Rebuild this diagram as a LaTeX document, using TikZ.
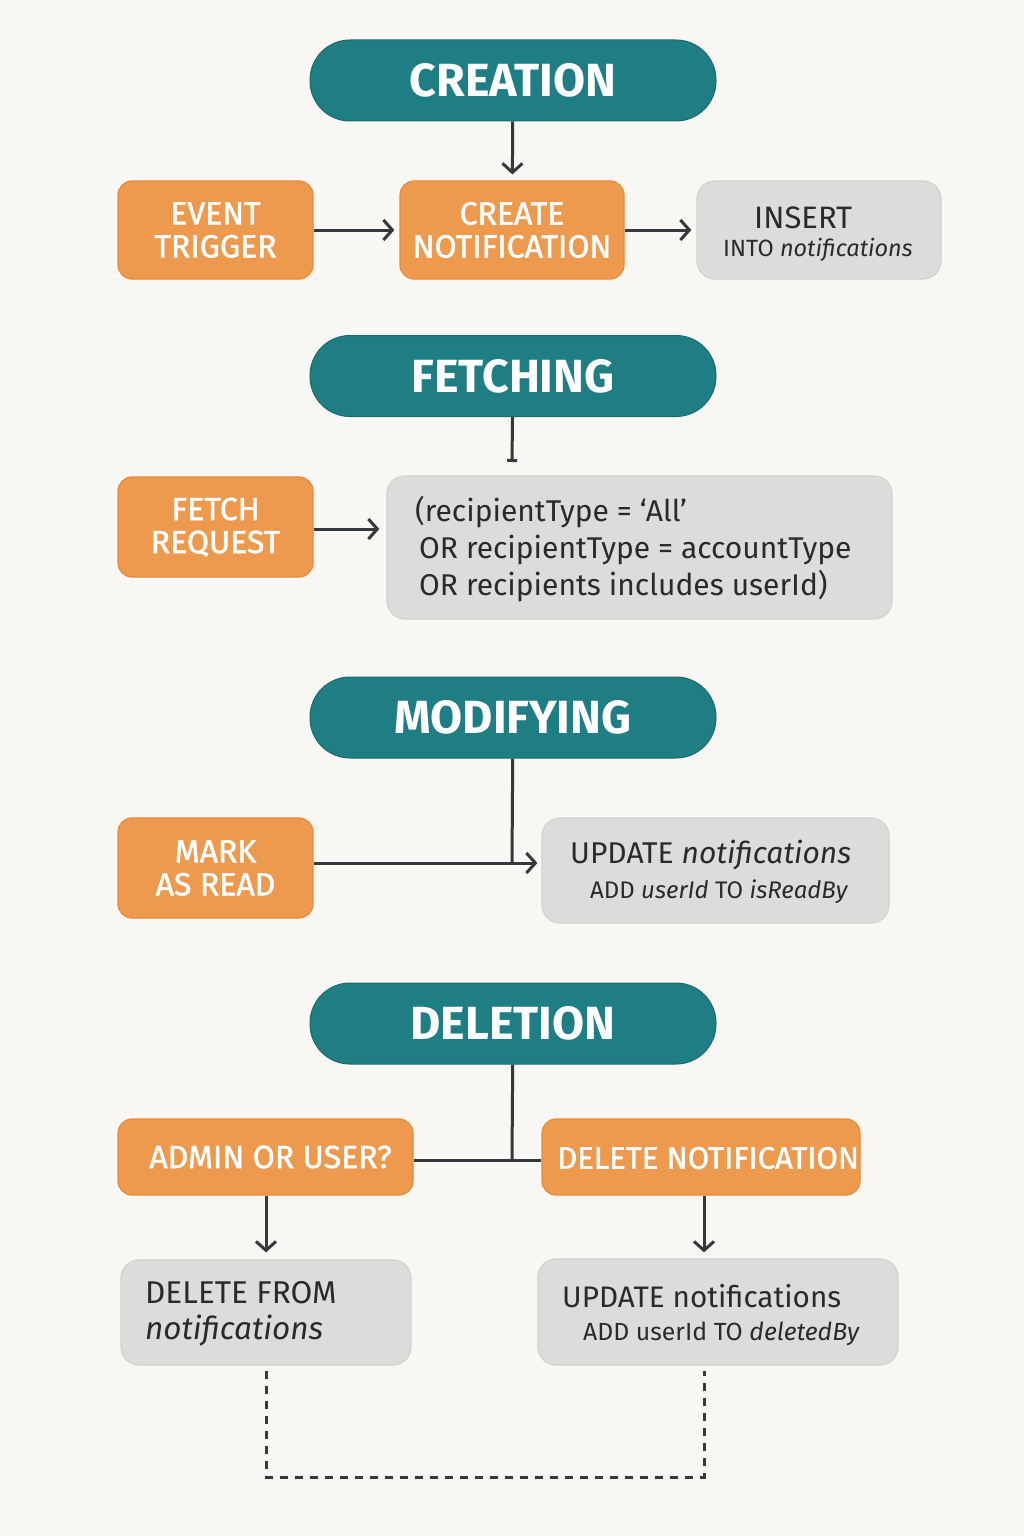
\documentclass[tikz,border=0pt]{standalone}
\usepackage{fontspec}
\setmainfont{Fira Sans}
\newfontfamily\medfont[FakeBold=1.5]{Fira Sans}
\usetikzlibrary{arrows.meta}
\definecolor{bgc}{HTML}{F8F7F3}
\definecolor{hdteal}{HTML}{1F7E83}
\definecolor{boxorange}{HTML}{EE9A4E}
\definecolor{boxorangeb}{HTML}{E98A3C}
\definecolor{boxgray}{HTML}{DCDCDA}
\definecolor{boxgrayb}{HTML}{D2D2D0}
\definecolor{ink}{HTML}{2A2A2A}
\definecolor{lnc}{HTML}{33393D}
\begin{document}
\begin{tikzpicture}[x=1pt,y=-1pt,
  head/.style={draw=hdteal!85!black, line width=1pt, fill=hdteal, rounded corners=40pt,
    minimum width=406pt, minimum height=81pt, inner sep=0pt, text=white,
    font=\fontsize{46.5}{50}\selectfont\bfseries},
  orbox/.style={fill=boxorange, draw=boxorangeb, line width=1.2pt, rounded corners=14pt,
    inner sep=0pt, text=white, align=center, font=\fontsize{32}{33}\selectfont\medfont},
  grbox/.style={fill=boxgray, draw=boxgrayb, line width=1.2pt, rounded corners=18pt, inner sep=0pt},
  grtext/.style={text=ink, inner sep=0pt, anchor=west},
  conn/.style={draw=lnc, line width=3pt},
  arr/.style={conn, -{Straight Barb[length=9pt,width=20pt,line width=3pt]}},
  dashline/.style={draw=lnc, line width=3pt, dash pattern=on 8pt off 7pt}
]
\useasboundingbox[fill=bgc] (0,0) rectangle (1024,1536);

% ---------- CREATION ----------
\node[head] (cr) at (513,80.5) {CREATION};
\node[orbox, minimum width=195pt, minimum height=98pt] (ev) at (215.5,230) {EVENT\\TRIGGER};
\node[orbox, minimum width=224pt, minimum height=98pt] (cn) at (512,230) {CREATE\\NOTIFICATION};
\node[grbox, minimum width=244pt, minimum height=98pt] (ins) at (819,230) {};
\node[grtext, font=\fontsize{31}{34}\selectfont] (ins1) at (754,218) {INSERT};
\node[grtext, font=\fontsize{23.5}{26}\selectfont] (ins2) at (723,250) {INTO \textit{notifications}};
\draw[arr, shorten >=6pt] (cr) -- (cn);
\draw[arr, shorten >=5pt] (ev) -- (cn);
\draw[arr, shorten >=5pt] (cn) -- (ins);

% ---------- FETCHING ----------
\node[head] (fh) at (513,376) {FETCHING};
\node[orbox, minimum width=195pt, minimum height=100pt] (fr) at (215.5,527) {FETCH\\REQUEST};
\node[grbox, minimum width=505pt, minimum height=143pt] (fq) at (639.5,547.5) {};
\node[grtext, align=left, font=\fontsize{30}{37}\selectfont] (fqt) at (415,549)
  {(recipientType = ‘All’\\\hspace*{4pt}OR recipientType = accountType\\\hspace*{4pt}OR recipients includes userId)};
\coordinate (fe) at (512,462);
\draw[conn, -{Bar[width=10pt]}] (fh) -- (fe);
\draw[arr, shorten >=7pt] (fr.east |- 0,529) -- (fq.west |- 0,529);

% ---------- MODIFYING ----------
\node[head] (mh) at (513,717.5) {MODIFYING};
\node[orbox, minimum width=195pt, minimum height=100pt] (mr) at (215.5,868) {MARK\\AS READ};
\node[grbox, minimum width=347pt, minimum height=105pt] (mu) at (715.5,870.5) {};
\node[grtext, font=\fontsize{30}{32}\selectfont] (mu1) at (570,855) {UPDATE \textit{notifications}};
\node[grtext, font=\fontsize{24}{26}\selectfont] (mu2) at (590,892) {ADD \textit{userId} TO \textit{isReadBy}};
\coordinate (mj) at (512,863);
\draw[conn] (mh) -- (mj);
\draw[arr, shorten >=4pt] (mr.east |- mj) -- (mu.west |- mj);

% ---------- DELETION ----------
\node[head] (dh) at (513,1023.5) {DELETION};
\node[orbox, minimum width=295pt, minimum height=76pt] (ad) at (265.5,1157) {\hspace*{10pt}ADMIN OR USER?};
\node[orbox, minimum width=318pt, minimum height=76pt] (dn) at (701,1157) {};
\node[inner sep=0pt, anchor=west, text=white, font=\fontsize{31}{32}\selectfont\medfont] (dnt) at (557,1158) {DELETE NOTIFICATION};
\node[grbox, minimum width=290pt, minimum height=105pt] (df) at (266,1312.5) {};
\node[grtext, align=left, font=\fontsize{31.5}{36}\selectfont] (dft) at (145,1314) {DELETE FROM\\\textit{notifications}};
\node[grbox, minimum width=360pt, minimum height=106pt] (du) at (718,1312) {};
\node[grtext, font=\fontsize{29.7}{32}\selectfont] (du1) at (562,1296) {UPDATE notifications};
\node[grtext, font=\fontsize{24.8}{26}\selectfont] (du2) at (583,1334) {ADD userId TO \textit{deletedBy}};
\coordinate (dj) at (512,1160);
\draw[conn] (dh) -- (dj);
\draw[conn] (ad.east |- dj) -- (dn.west |- dj);
\draw[arr, shorten >=7pt] (ad.south -| 266,0) -- (df.north -| 266,0);
\draw[arr, shorten >=6pt] (dn.south -| 704,0) -- (du.north -| 704,0);
\draw[dashline] ([yshift=-5pt]df.south -| 266,0) -- (266,1477) -| ([yshift=-5pt]du.south -| 704,0);
\end{tikzpicture}
\end{document}
